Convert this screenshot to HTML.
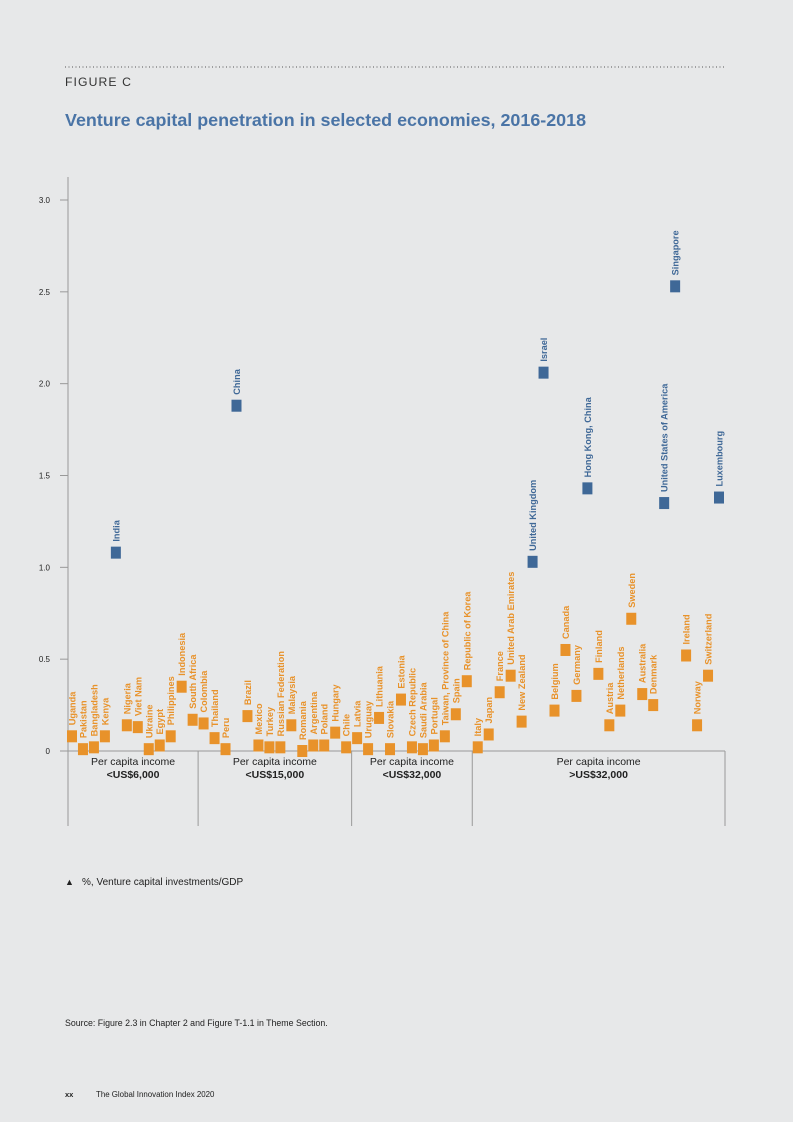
<!DOCTYPE html>
<html><head><meta charset="utf-8"><style>
body{margin:0;background:#e7e8e9;font-family:"Liberation Sans",sans-serif;}
#page{position:relative;width:793px;height:1122px;overflow:hidden;background:#e7e8e9;}
</style></head><body>
<div id="page">
<svg id="chart" width="793" height="1122" style="position:absolute;left:0;top:0">
<line x1="65" y1="67" x2="725" y2="67" stroke="#555" stroke-width="1" stroke-dasharray="1,2.5"/>
<text x="65" y="86" font-size="12.2" letter-spacing="1.1" fill="#333">FIGURE C</text>
<text x="65" y="126" font-size="17.9" font-weight="bold" fill="#4a74a6">Venture capital penetration in selected economies, 2016-2018</text>
<g id="axes"></g>
<g id="marks"></g>
<text x="65" y="885" font-size="9" fill="#222">▲</text>
<text x="82" y="885" font-size="10" fill="#222">%, Venture capital investments/GDP</text>
<text x="65" y="1026" font-size="8.8" fill="#222">Source: Figure 2.3 in Chapter 2 and Figure T-1.1 in Theme Section.</text>
<text x="65" y="1097" font-size="7.5" font-weight="bold" fill="#222">xx</text>
<text x="96" y="1097" font-size="7.9" fill="#222">The Global Innovation Index 2020</text>
</svg>
</div>
<script>
const countries=["Uganda","Pakistan","Bangladesh","Kenya","India","Nigeria","Viet Nam","Ukraine","Egypt","Philippines","Indonesia","South Africa","Colombia","Thailand","Peru","China","Brazil","Mexico","Turkey","Russian Federation","Malaysia","Romania","Argentina","Poland","Hungary","Chile","Latvia","Uruguay","Lithuania","Slovakia","Estonia","Czech Republic","Saudi Arabia","Portugal","Taiwan, Province of China","Spain","Republic of Korea","Italy","Japan","France","United Arab Emirates","New Zealand","United Kingdom","Israel","Belgium","Canada","Germany","Hong Kong, China","Finland","Austria","Netherlands","Sweden","Australia","Denmark","United States of America","Singapore","Ireland","Norway","Switzerland","Luxembourg"];
const values=[0.08,0.01,0.02,0.08,1.08,0.14,0.13,0.01,0.03,0.08,0.35,0.17,0.15,0.07,0.01,1.88,0.19,0.03,0.02,0.02,0.14,0.0,0.03,0.03,0.10,0.02,0.07,0.01,0.18,0.01,0.28,0.02,0.01,0.03,0.08,0.20,0.38,0.02,0.09,0.32,0.41,0.16,1.03,2.06,0.22,0.55,0.30,1.43,0.42,0.14,0.22,0.72,0.31,0.25,1.35,2.53,0.52,0.14,0.41,1.38];
const highlighted=["India","China","United Kingdom","Israel","Hong Kong, China","United States of America","Singapore","Luxembourg"];
const yTicks=[0,0.5,1.0,1.5,2.0,2.5,3.0];
const yTickLabels=["0","0.5","1.0","1.5","2.0","2.5","3.0"];
const groupLabels=[["Per capita income","<US$6,000"],["Per capita income","<US$15,000"],["Per capita income","<US$32,000"],["Per capita income",">US$32,000"]];
const groupBreaks=[0,12,26,37,60];

const NS="http://www.w3.org/2000/svg";
const y0=751,yTop=200,xL=68,xR=725;
const yS=v=>y0-(y0-yTop)*v/3;
const xFirst=72,xLast=719;
const xS=i=>xFirst+i*(xLast-xFirst)/(countries.length-1);
function mk(tag,attrs,parent){const e=document.createElementNS(NS,tag);for(const k in attrs)e.setAttribute(k,attrs[k]);parent.appendChild(e);return e;}
const axes=document.getElementById('axes'),marks=document.getElementById('marks');
let a=mk('line',{x1:xL,y1:177,x2:xL,y2:826,stroke:'#999','stroke-width':1},axes);


let b=mk('line',{x1:xL,y1:y0,x2:xR,y2:y0,stroke:'#999','stroke-width':1},axes);


yTicks.forEach((t,i)=>{
 const tk=mk('line',{x1:xL-8,y1:yS(t),x2:xL,y2:yS(t),stroke:'#999','stroke-width':1},axes);
 
 
 const tl=mk('text',{x:50,y:yS(t)+3,'font-size':8,'text-anchor':'end',fill:'#222'},axes);
 tl.textContent=yTickLabels[i];
 
 
});
groupBreaks.forEach((g,i)=>{
 const x=i==0?xL:(i==groupBreaks.length-1?xR:(xS(g-1)+xS(g))/2);
 const l=mk('line',{x1:x,y1:y0,x2:x,y2:826,stroke:'#999','stroke-width':1},axes);
 
 
});
groupLabels.forEach((gl,i)=>{
 const xa=i==0?xL:(xS(groupBreaks[i]-1)+xS(groupBreaks[i]))/2;
 const xb=i==groupLabels.length-1?xR:(xS(groupBreaks[i+1]-1)+xS(groupBreaks[i+1]))/2;
 const t1=mk('text',{x:(xa+xb)/2,y:765,'font-size':10.5,'text-anchor':'middle',fill:'#222'},axes);
 t1.textContent=gl[0];
 
 
 const t2=mk('text',{x:(xa+xb)/2,y:778,'font-size':10.5,'font-weight':'bold','text-anchor':'middle',fill:'#222'},axes);
 t2.textContent=gl[1];
 
 
});
countries.forEach((c,i)=>{
 const hl=highlighted.includes(c);
 const col=hl?'#3f6897':'#e8922a';
 const x=xS(i),y=yS(values[i]);
 const r=mk('rect',{x:x-5,y:y-6,width:10,height:12,fill:col},marks);
 
 
 const t=mk('text',{x:0,y:0,'font-size':9.2,'font-weight':'bold',fill:col,transform:`translate(${x+3.5},${y-11}) rotate(-90)`},marks);
 t.textContent=c;
 
 
});
</script>
</body></html>
